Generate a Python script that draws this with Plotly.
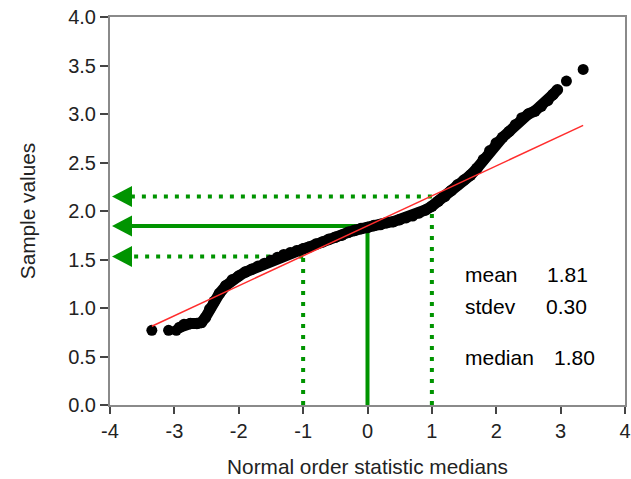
import plotly.graph_objects as go
import numpy as np

# ---- data ----
# theoretical quantiles (normal order statistic medians) and sample values
tail_low_x = [-3.35, -3.09, -2.97]
tail_low_y = [0.77, 0.77, 0.77]

band_x = [-2.92, -2.85, -2.75, -2.65, -2.58, -2.52, -2.45, -2.38, -2.30, -2.20,
          -2.10, -2.00, -1.90, -1.80, -1.70, -1.60, -1.50, -1.40, -1.30, -1.20,
          -1.10, -1.00, -0.90, -0.80, -0.70, -0.60, -0.50, -0.40, -0.30, -0.20,
          -0.10, 0.00, 0.10, 0.20, 0.30, 0.40, 0.50, 0.60, 0.70, 0.80,
          0.90, 1.00, 1.10, 1.20, 1.30, 1.40, 1.50, 1.60, 1.70, 1.80,
          1.90, 2.00, 2.10, 2.20, 2.30, 2.40, 2.50, 2.60, 2.70, 2.80,
          2.88, 2.95]
band_y = [0.80, 0.83, 0.84, 0.84, 0.85, 0.90, 0.99, 1.07, 1.15, 1.23,
          1.29, 1.33, 1.37, 1.40, 1.43, 1.46, 1.49, 1.52, 1.55, 1.57,
          1.59, 1.61, 1.63, 1.66, 1.68, 1.71, 1.73, 1.75, 1.78, 1.80,
          1.82, 1.83, 1.85, 1.86, 1.88, 1.89, 1.91, 1.93, 1.95, 1.98,
          2.01, 2.05, 2.10, 2.15, 2.21, 2.27, 2.32, 2.37, 2.44, 2.53,
          2.62, 2.70, 2.76, 2.82, 2.89, 2.96, 3.00, 3.03, 3.08, 3.14,
          3.20, 3.25]

tail_high_x = [3.09, 3.35]
tail_high_y = [3.34, 3.46]

# least-squares fit line of the probability plot
fit_intercept = 1.847
fit_slope = 0.309
fit_x_range = [-3.35, 3.35]

# quantile guides (theoretical -1, 0, +1 sigma)
guide_x = [-1, 0, 1]
guide_y = [1.53, 1.845, 2.15]
guide_dash = ["4px,7px", "solid", "4px,7px"]

stat_labels = ["mean", "stdev", "median"]
stat_values = ["1.81", "0.30", "1.80"]

x_ticks = [-4, -3, -2, -1, 0, 1, 2, 3, 4]
x_tick_labels = ["-4", "-3", "-2", "-1", "0", "1", "2", "3", "4"]
y_ticks = [0.0, 0.5, 1.0, 1.5, 2.0, 2.5, 3.0, 3.5, 4.0]
y_tick_labels = ["0.0", "0.5", "1.0", "1.5", "2.0", "2.5", "3.0", "3.5", "4.0"]

# ---- styles ----
FONT = "Liberation Sans, Arial, Helvetica, sans-serif"
GREEN = "#009400"
RED = "rgb(255,45,45)"
AXIS = "#8a8a8a"

fig = go.Figure()

fig.add_trace(go.Scatter(
    x=band_x, y=band_y, mode="lines+markers",
    line=dict(color="black", width=11),
    marker=dict(color="black", size=11.5),
    hoverinfo="skip", showlegend=False))
fig.add_trace(go.Scatter(
    x=tail_low_x + tail_high_x, y=tail_low_y + tail_high_y, mode="markers",
    marker=dict(color="black", size=11),
    hoverinfo="skip", showlegend=False))

fx = np.array(fit_x_range)
fig.add_trace(go.Scatter(
    x=fx, y=fit_intercept + fit_slope * fx, mode="lines",
    line=dict(color=RED, width=1.5),
    hoverinfo="skip", showlegend=False))

shapes = []
for gx, gy, gd in zip(guide_x, guide_y, guide_dash):
    ln = dict(color=GREEN, width=4, dash=gd)
    shapes.append(dict(type="line", xref="x", yref="y", x0=gx, x1=gx,
                       y0=0, y1=gy, line=ln, layer="below"))
    shapes.append(dict(type="line", xref="x", yref="y", x0=gx, x1=-3.75,
                       y0=gy, y1=gy, line=ln, layer="below"))
    shapes.append(dict(type="path", xref="x", yref="y",
                       xsizemode="pixel", ysizemode="pixel",
                       xanchor=x_ticks[0], yanchor=gy,
                       path="M 2,0 L 22,10.5 L 22,-10.5 Z",
                       fillcolor=GREEN, line=dict(width=0), layer="below"))

annotations = []
stat_y = [1.35, 1.02, 0.49]
val_x = [2.76, 2.74, 2.87]
for lab, val, sy, vx in zip(stat_labels, stat_values, stat_y, val_x):
    annotations.append(dict(x=1.49, y=sy, xref="x", yref="y", text=lab,
                            showarrow=False, xanchor="left", yanchor="middle",
                            font=dict(family=FONT, size=21, color="black")))
    annotations.append(dict(x=vx, y=sy, xref="x", yref="y", text=val,
                            showarrow=False, xanchor="left", yanchor="middle",
                            font=dict(family=FONT, size=21, color="black")))

fig.update_layout(
    width=631, height=479,
    margin=dict(l=110, r=6, t=17, b=74),
    paper_bgcolor="white", plot_bgcolor="white",
    shapes=shapes, annotations=annotations,
    font=dict(family=FONT, color="#222"),
    xaxis=dict(range=[-4, 4], tickvals=x_ticks, ticktext=x_tick_labels,
               automargin=False,
               showgrid=False, zeroline=False, showline=True, mirror=True,
               linecolor=AXIS, linewidth=2, ticks="outside", ticklen=7,
               tickwidth=1.5, tickcolor="#444",
               tickfont=dict(family=FONT, size=20, color="#222"),
               title=dict(text="Normal order statistic medians", standoff=18,
                          font=dict(family=FONT, size=20.8, color="#222"))),
    yaxis=dict(range=[0, 4], tickvals=y_ticks, ticktext=y_tick_labels,
               automargin=False,
               showgrid=False, zeroline=False, showline=True, mirror=True,
               linecolor=AXIS, linewidth=2, ticks="outside", ticklen=8,
               tickwidth=1.5, tickcolor="#444",
               tickfont=dict(family=FONT, size=20, color="#222"),
               title=dict(text="Sample values", standoff=27,
                          font=dict(family=FONT, size=20.8, color="#222"))),
)

fig.write_html("out.html",
               config={"displayModeBar": False},
               post_script="document.body.style.margin='0';"
                           "document.body.style.overflow='hidden';")
